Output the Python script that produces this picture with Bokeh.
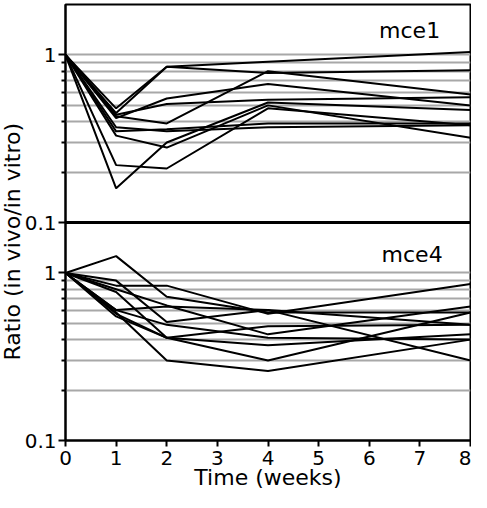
from bokeh.plotting import figure
from bokeh.models import (Range1d, LogScale, FixedTicker, Span, Label, Grid,
                          Title, CustomJSTickFormatter)
from bokeh.embed import file_html
from bokeh.resources import INLINE

# ---------------- data ----------------
weeks = [0, 1, 2, 4, 8]

# mce1 panel (top)
mce1_a = [1.0, 0.48, 0.85, 0.91, 1.04]
mce1_b = [1.0, 0.45, 0.85, 0.78, 0.81]
mce1_c = [1.0, 0.43, 0.39, 0.80, 0.58]
mce1_d = [1.0, 0.42, 0.55, 0.67, 0.50]
mce1_e = [1.0, 0.44, 0.51, 0.54, 0.56]
mce1_f = [1.0, 0.16, 0.30, 0.52, 0.47]
mce1_g = [1.0, 0.37, 0.35, 0.37, 0.38]
mce1_h = [1.0, 0.33, 0.28, 0.50, 0.32]
mce1_i = [1.0, 0.22, 0.21, 0.48, 0.38]
mce1_j = [1.0, 0.35, 0.36, 0.39, 0.39]

# mce4 panel (bottom)
mce4_a = [1.0, 1.26, 0.72, 0.58, 0.58]
mce4_b = [1.0, 0.90, 0.51, 0.60, 0.30]
mce4_c = [1.0, 0.84, 0.84, 0.57, 0.86]
mce4_d = [1.0, 0.80, 0.64, 0.43, 0.63]
mce4_e = [1.0, 0.60, 0.63, 0.60, 0.49]
mce4_f = [1.0, 0.57, 0.41, 0.37, 0.43]
mce4_g = [1.0, 0.55, 0.41, 0.30, 0.58]
mce4_h = [1.0, 0.58, 0.30, 0.26, 0.40]
mce4_i = [1.0, 0.77, 0.41, 0.48, 0.49]
mce4_j = [1.0, 0.60, 0.49, 0.41, 0.40]

mce1_series = [mce1_a, mce1_b, mce1_c, mce1_d, mce1_e,
               mce1_f, mce1_g, mce1_h, mce1_i, mce1_j]
mce4_series = [mce4_a, mce4_b, mce4_c, mce4_d, mce4_e,
               mce4_f, mce4_g, mce4_h, mce4_i, mce4_j]

panel_names = ["mce1", "mce4"]
x_ticks = [0, 1, 2, 3, 4, 5, 6, 7, 8]
y_major = [0.1, 1.0]
y_minor = [0.2, 0.3, 0.4, 0.5, 0.6, 0.7, 0.8, 0.9]
grid_levels = [0.2, 0.3, 0.4, 0.5, 0.6, 0.7, 0.8, 0.9, 1.0]
x_title = "Time (weeks)"
y_title = "Ratio (in vivo/in vitro)"

# each panel spans 0.1 .. 2 on a log scale; the two panels are stacked
Y_LO, Y_HI = 0.1, 2.0
STACK = Y_HI / Y_LO

FONT = "DejaVu Sans"

p = figure(width=471, height=492,
           x_range=Range1d(0, 8),
           y_range=Range1d(Y_LO, Y_HI * STACK),
           y_axis_type="log",
           output_backend="svg", toolbar_location=None,
           min_border_left=65, min_border_right=1,
           min_border_top=4, min_border_bottom=49)
p.extra_y_ranges = {"top": Range1d(Y_LO / STACK, Y_HI)}
p.extra_y_scales = {"top": LogScale()}

p.outline_line_color = "black"
p.outline_line_width = 2
p.background_fill_color = "white"
p.border_fill_color = "white"

# grids
p.xgrid.visible = False
p.ygrid.ticker = FixedTicker(ticks=grid_levels)
p.ygrid.grid_line_color = "#a8a8a8"
p.ygrid.grid_line_width = 2
top_grid = Grid(dimension=1, ticker=FixedTicker(ticks=grid_levels),
                y_range_name="top", grid_line_color="#a8a8a8",
                grid_line_width=2)
p.add_layout(top_grid)

# y axis: bottom panel ticks in main coordinates, top panel ticks stacked above
yax = p.yaxis[0]
yax.ticker = FixedTicker(
    ticks=y_major + [t * STACK for t in y_major],
    minor_ticks=y_minor + [t * STACK for t in y_minor])
yax.formatter = CustomJSTickFormatter(
    args=dict(stack=STACK, hi=Y_HI),
    code="""
    const v = tick >= hi * 0.999 ? tick / stack : tick;
    return String(Math.round(v * 10) / 10);
    """)
yax.axis_line_width = 2
yax.major_tick_line_width = 2
yax.minor_tick_line_width = 2
yax.major_tick_out = 7
yax.major_tick_in = 0
yax.minor_tick_out = 4
yax.minor_tick_in = 0
yax.major_label_standoff = 2
yax.major_label_text_font = FONT
yax.major_label_text_font_size = "20px"
yax.major_label_text_color = "black"

xax = p.xaxis[0]
xax.ticker = FixedTicker(ticks=x_ticks)
xax.axis_line_width = 2
xax.major_tick_line_width = 2
xax.major_tick_out = 6
xax.major_tick_in = 0
xax.minor_tick_line_color = None
xax.major_label_standoff = 4
xax.major_label_text_font = FONT
xax.major_label_text_font_size = "20px"
xax.major_label_text_color = "black"
xax.axis_label = x_title
xax.axis_label_standoff = -3
xax.axis_label_text_font = FONT
xax.axis_label_text_font_size = "22px"
xax.axis_label_text_font_style = "normal"
xax.axis_label_text_color = "black"

# y title, outside the tick labels (offset measured up from the frame bottom)
p.add_layout(Title(text=y_title, align="left", offset=80, standoff=-6,
                   text_font=FONT, text_font_size="22px",
                   text_font_style="normal", text_color="black"), "left")

# data lines
for s in mce1_series:
    p.line(weeks, s, y_range_name="top", line_color="black", line_width=2)
for s in mce4_series:
    p.line(weeks, s, line_color="black", line_width=2)

# separator between panels
p.add_layout(Span(location=Y_HI, dimension="width", line_color="black",
                  line_width=3))

# panel names
p.add_layout(Label(x=7.4, y=1.40, y_range_name="top", text=panel_names[0],
                   text_align="right", text_baseline="alphabetic",
                   text_font=FONT, text_font_size="22px", text_color="black"))
p.add_layout(Label(x=7.45, y=1.28, text=panel_names[1],
                   text_align="right", text_baseline="alphabetic",
                   text_font=FONT, text_font_size="22px", text_color="black"))

open("out.html", "w").write(file_html(p, INLINE))
